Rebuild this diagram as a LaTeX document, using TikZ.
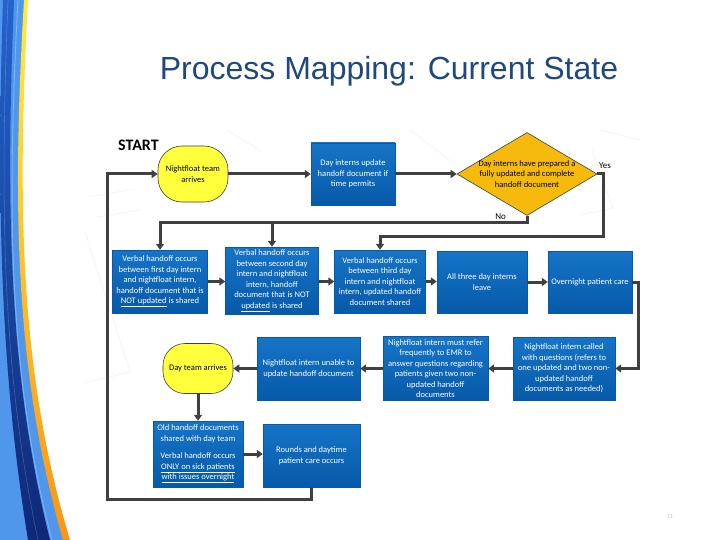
\documentclass[tikz,border=0pt]{standalone}
\usepackage{fontspec}
\setmainfont{Carlito}
\newfontfamily\titlefont{Liberation Sans}
\usetikzlibrary{shapes.geometric,arrows.meta,calc}
\definecolor{boxtop}{RGB}{22,116,200}
\definecolor{boxbot}{RGB}{6,90,168}
\definecolor{linec}{RGB}{64,64,64}
\definecolor{titleblue}{RGB}{31,73,125}
\definecolor{ovalyellow}{RGB}{255,255,60}
\definecolor{goldc}{RGB}{246,186,12}
\definecolor{swblue}{RGB}{80,150,235}
\definecolor{swdark}{RGB}{35,100,205}
\definecolor{swnavy}{RGB}{15,40,120}
\definecolor{swyellow}{RGB}{255,236,60}
\definecolor{sworange}{RGB}{250,150,20}
\begin{document}
\begin{tikzpicture}[x=1pt,y=-1pt,
  procbox/.style={rectangle, shading=axis, top color=boxtop, bottom color=boxbot,
    draw=boxbot, line width=0.4pt, text=white, align=center, inner sep=1pt,
    font=\fontsize{8.5}{10.5}\selectfont},
  terminal/.style={rectangle, draw=linec, line width=0.6pt, fill=ovalyellow,
    text=black, align=center, inner sep=1pt, font=\fontsize{8.5}{10.5}\selectfont},
  decision/.style={diamond, draw=linec, line width=0.6pt, fill=goldc, inner sep=0pt,
    minimum width=140pt, minimum height=83pt},
  dtext/.style={align=center, text=black, inner sep=0pt, font=\fontsize{8.5}{10.5}\selectfont},
  conn/.style={draw=linec, line width=3pt, -{Triangle[length=6pt,width=8pt]}},
  lab/.style={text=black, font=\fontsize{9}{10}\selectfont, inner sep=0pt},
  bgline/.style={draw=gray!12, line width=0.5pt}]
\useasboundingbox (0,0) rectangle (720,540);
\fill[white] (0,0) rectangle (720,540);
% faint background lines
\draw[bgline] (88,197) -- (135,189);
\draw[bgline] (97,217) -- (140,210);
\draw[bgline] (85,232) -- (130,372) -- (85,383);
\draw[bgline] (227,130) -- (262,152);
\draw[bgline] (410,130) -- (453,163);
\draw[bgline] (592,150) -- (613,208) -- (580,215);
\draw[bgline] (600,130) -- (640,140);
% left swoosh
\fill[swblue] (0,0) -- (26,0) .. controls (12,220) and (18,380) .. (67,540) -- (0,540) -- cycle;
\shade[top color=swdark, bottom color=swnavy] (3,0) .. controls (-4,220) and (2,380) .. (28,540) -- (50,540) .. controls (10,380) and (5,220) .. (14,0) -- cycle;
\draw[white, opacity=0.3, line width=0.8pt] (18,0) .. controls (6,220) and (10,380) .. (52,540);
\draw[white, opacity=0.2, line width=0.6pt] (8,0) .. controls (-1,220) and (4,380) .. (38,540);
\shade[top color=swyellow, middle color=swyellow, bottom color=sworange] (24,0) .. controls (11,220) and (17,380) .. (63,540) -- (70,540) .. controls (22,380) and (16,220) .. (28,0) -- cycle;
% title
\node[anchor=base, font=\titlefont\fontsize{32}{36}\selectfont, text=titleblue] (title) at (389,80) {Process Mapping: Current State};
\node[anchor=base west, font=\bfseries\fontsize{16}{18}\selectfont, inner sep=0pt] (start) at (118,151) {START};
% nodes
\node[terminal, minimum width=70pt, minimum height=56pt, rounded corners=24pt] (oval1) at (193,174) {Nightfloat team\\arrives};
\node[procbox, minimum width=84pt, minimum height=62pt] (upd) at (353,174) {Day interns update\\handoff document if\\time permits};
\node[decision] (dec) at (527,174) {};
\node[dtext] (dect) at (527,174) {Day interns have prepared a\\fully updated and complete\\handoff document};
\node[procbox, minimum width=95pt, minimum height=63pt] (A) at (160,281.5) {Verbal handoff occurs\\between first day intern\\and nightfloat intern,\\handoff document that is\\\underline{NOT updated} is shared};
\node[procbox, minimum width=93pt, minimum height=67pt] (B) at (272,280.5) {Verbal handoff occurs\\between second day\\intern and nightfloat\\intern, handoff\\document that is NOT\\\underline{updated} is shared};
\node[procbox, minimum width=91pt, minimum height=63pt] (C) at (380,281.5) {Verbal handoff occurs\\between third day\\intern and nightfloat\\intern, updated handoff\\document shared};
\node[procbox, minimum width=90pt, minimum height=62pt] (D) at (482,282) {All three day interns\\leave};
\node[procbox, minimum width=84pt, minimum height=62pt] (E) at (590,282) {Overnight patient care};
\node[procbox, minimum width=102pt, minimum height=63pt] (F) at (564,368.5) {Nightfloat intern called\\with questions (refers to\\one updated and two non-\\updated handoff\\documents as needed)};
\node[procbox, minimum width=105pt, minimum height=64pt] (G) at (435.5,368.5) {Nightfloat intern must refer\\frequently to EMR to\\answer questions regarding\\patients given two non-\\updated handoff\\documents};
\node[procbox, minimum width=103pt, minimum height=63pt] (H) at (308.5,368.5) {Nightfloat intern unable to\\update handoff document};
\node[terminal, minimum width=70pt, minimum height=50pt, rounded corners=22pt] (oval2) at (198,368.5) {Day team arrives};
\node[procbox, minimum width=90pt, minimum height=66pt] (I) at (198,454) {Old handoff documents\\shared with day team\\[7pt]Verbal handoff occurs\\\underline{ONLY on sick patients}\\\underline{with issues overnight}};
\node[procbox, minimum width=97pt, minimum height=63pt] (J) at (311.5,455.5) {Rounds and daytime\\patient care occurs};
% coordinates
\coordinate (loopL) at (107,499);
\coordinate (noL) at (160,223);
\coordinate (yesR) at (603,236);
\coordinate (eR) at (638,283);
% connectors
\draw[conn] (J.south) |- (loopL) |- (oval1.west);
\draw[conn] (oval1.east) -- (upd.west);
\draw[conn] (upd.east) -- (dec.west);
\draw[conn] (dec.south) |- (noL) -- (A.north);
\draw[conn] (B.north |- noL) -- (B.north);
\draw[conn] (dec.east) -| (yesR) -| (C.north);
\draw[conn] (A.east) -- (A.east -| B.west);
\draw[conn] (B.east |- A.east) -- (C.west);
\draw[conn] (C.east) -- (C.east -| D.west);
\draw[conn] (D.east) -- (E.west);
\draw[conn] (E.east) -- (E.east -| eR) |- (F.east);
\draw[conn] (F.west) -- (G.east);
\draw[conn] (G.west) -- (H.east);
\draw[conn] (H.west) -- (oval2.east);
\draw[conn] (oval2.south) -- (I.north);
\draw[conn] (I.east) -- (I.east -| J.west);
% labels
\node[lab, anchor=south west] (yes) at (599,169) {Yes};
\node[lab, anchor=south east] (no) at (506,220) {No};
\node[text=gray!50, font=\fontsize{6}{7}\selectfont, inner sep=0pt] (pg) at (670,517) {11};
\end{tikzpicture}
\end{document}
